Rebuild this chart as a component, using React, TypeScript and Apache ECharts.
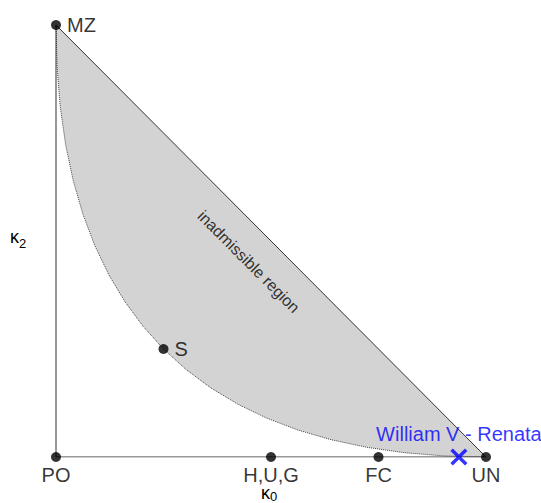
import React, { useEffect, useRef } from "react";
import * as echarts from "echarts";

// boundary curve sqrt(k0)+sqrt(k2)=1, points (k0, k2)
const boundaryK0 = [0, 0.0025, 0.01, 0.0225, 0.04, 0.0625, 0.09, 0.1225, 0.16, 0.2025, 0.25, 0.3025, 0.36, 0.4225, 0.49, 0.5625, 0.64, 0.7225, 0.81, 0.9025, 1];
const boundaryK2 = [1, 0.9025, 0.81, 0.7225, 0.64, 0.5625, 0.49, 0.4225, 0.36, 0.3025, 0.25, 0.2025, 0.16, 0.1225, 0.09, 0.0625, 0.04, 0.0225, 0.01, 0.0025, 0];

const refNames = ["MZ", "PO", "S", "H,U,G", "FC", "UN"];
const refK0 = [0, 0, 0.25, 0.5, 0.75, 1];
const refK2 = [1, 0, 0.25, 0, 0, 0];
const refLabelPos = ["right", "bottom", "right", "bottom", "bottom", "bottom"];

const pairName = "William V - Renata";
const pairK0 = 0.937;
const pairK2 = 0;

const triangleK0 = [0, 0, 1, 0];
const triangleK2 = [1, 0, 0, 1];

const FONT = "'Liberation Sans', Arial, Helvetica, sans-serif";

export default function App() {
  const ref = useRef<HTMLDivElement>(null);
  useEffect(() => {
    document.body.style.margin = "0";
    if (!ref.current) return;
    const chart = echarts.init(ref.current, undefined, { renderer: "svg" });
    const curve = boundaryK0.map((x, i) => [x, boundaryK2[i]]);
    const hiddenAxis = {
      type: "value",
      min: 0,
      max: 1,
      axisLine: { show: false },
      axisTick: { show: false },
      axisLabel: { show: false },
      splitLine: { show: false },
    };
    const option: any = {
      animation: false,
      backgroundColor: "#ffffff",
      grid: { left: 56, right: 55, top: 25, bottom: 46, outerBoundsMode: "none", containLabel: false },
      xAxis: { ...hiddenAxis },
      yAxis: { ...hiddenAxis },
      graphic: [
        { type: "text", left: 10, top: 228, style: { text: "κ", font: `18px ${FONT}`, fill: "#000" } },
        { type: "text", left: 19, top: 237, style: { text: "2", font: `13px ${FONT}`, fill: "#000" } },
        { type: "text", left: 261, top: 484, style: { text: "κ", font: `18px ${FONT}`, lineHeight: 12, fill: "#000" } },
        { type: "text", left: 270, top: 490, style: { text: "0", font: `13px ${FONT}`, lineHeight: 9, fill: "#000" } },
      ],
      series: [
        {
          type: "custom",
          data: [[0, 1]],
          z: 1,
          silent: true,
          renderItem: (params: any, api: any) => {
            const points = curve.map((p) => api.coord(p));
            return {
              type: "polygon",
              shape: { points },
              style: { fill: "#d3d3d3", stroke: "none" },
            };
          },
        },
        {
          type: "line",
          data: curve,
          z: 2,
          symbol: "none",
          smooth: false,
          lineStyle: { color: "#444", width: 1, type: "dotted" },
        },
        {
          type: "line",
          data: triangleK0.map((x, i) => [x, triangleK2[i]]),
          z: 3,
          symbol: "none",
          lineStyle: { color: "#333", width: 1 },
        },
        {
          type: "scatter",
          data: [[0.448, 0.452]],
          z: 4,
          symbolSize: 0,
          label: {
            show: true,
            position: "inside",
            formatter: "inadmissible region",
            rotate: -45,
            fontFamily: FONT,
            fontSize: 16,
            color: "#000",
          },
        },
        {
          type: "scatter",
          z: 5,
          symbol: "circle",
          symbolSize: 10,
          itemStyle: { color: "#000" },
          data: refNames.map((n, i) => ({
            name: n,
            value: [refK0[i], refK2[i]],
            label: {
              show: true,
              position: refLabelPos[i],
              distance: refLabelPos[i] === "right" ? 6 : 5,
              formatter: n,
              fontFamily: FONT,
              fontSize: 20,
              lineHeight: refLabelPos[i] === "right" ? 20 : 16,
              color: "#000",
            },
          })),
        },
        {
          type: "scatter",
          z: 6,
          symbol:
            "path://M0,1.4 L1.4,0 L5,3.6 L8.6,0 L10,1.4 L6.4,5 L10,8.6 L8.6,10 L5,6.4 L1.4,10 L0,8.6 L3.6,5 Z",
          symbolSize: 17,
          itemStyle: { color: "#0000ff" },
          data: [
            {
              name: pairName,
              value: [pairK0, pairK2],
              label: {
                show: true,
                position: "top",
                distance: 5,
                formatter: pairName,
                fontFamily: FONT,
                fontSize: 20,
                color: "#0000ff",
              },
            },
          ],
        },
      ],
    };
    chart.setOption(option);
    return () => chart.dispose();
  }, []);
  return <div ref={ref} style={{ width: 541, height: 503 }} />;
}
